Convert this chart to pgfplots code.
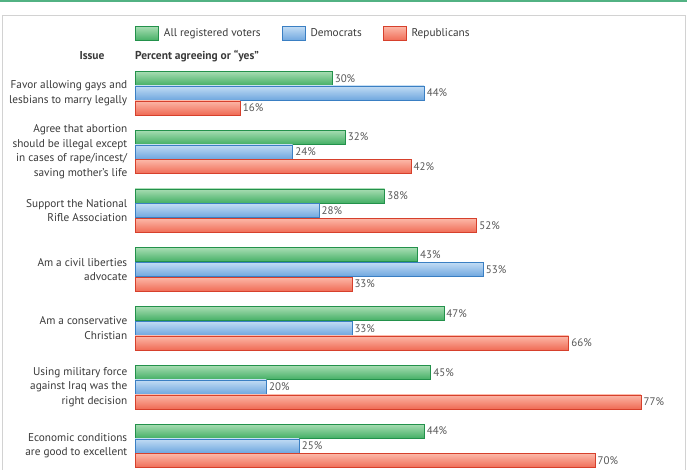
\documentclass[border=0pt]{standalone}
\usepackage{pgfplots}
\pgfplotsset{compat=1.18}
\usepackage{fontspec}
\setmainfont{PT Sans}
\definecolor{txt}{HTML}{3A3A3A}
\definecolor{gtop}{HTML}{A8DDB3}
\definecolor{gbot}{HTML}{45B066}
\definecolor{gdr}{HTML}{23914B}
\definecolor{btop}{HTML}{C2DCF4}
\definecolor{bbot}{HTML}{6FA7DF}
\definecolor{bdr}{HTML}{3A7FC3}
\definecolor{rtop}{HTML}{FCB8A8}
\definecolor{rbot}{HTML}{F06C56}
\definecolor{rdr}{HTML}{D6402C}
\definecolor{topline}{HTML}{52B283}
\pgfplotsset{
  gbar/.style={bar shift=14.75bp, draw=gdr, top color=gtop, bottom color=gbot},
  bbar/.style={bar shift=0bp, draw=bdr, top color=btop, bottom color=bbot},
  rbar/.style={bar shift=-14.75bp, draw=rdr, top color=rtop, bottom color=rbot},
}
\begin{document}
\begin{tikzpicture}
\useasboundingbox (0,0) rectangle (687bp,470bp);
\fill[white] (0,0) rectangle (687bp,470bp);
\fill[topline] (0,468bp) rectangle (687bp,470bp);
\draw[gray!35, line width=1bp] (2bp,-2bp) -- (2bp,454bp) -- (685bp,454bp) -- (685bp,-2bp);
\node[font=\fontsize{11.5}{13}\selectfont\bfseries, text=txt] at (92bp,414bp) {Issue};
\node[font=\fontsize{11.5}{13}\selectfont\bfseries, text=txt, anchor=west, inner sep=0pt] at (135bp,414bp) {Percent agreeing or “yes”};
\begin{axis}[
  at={(135bp,406.4bp)}, anchor=north west,
  scale only axis, width=525.6bp, height=411.6bp,
  xmin=0, xmax=80, ymin=0.5, ymax=7.5,
  xbar, bar width=14bp,
  axis line style={draw=none}, tick style={draw=none},
  xtick=\empty, ytick={1,2,3,4,5,6,7},
  yticklabels={{Economic conditions\\are good to excellent},
    {Using military force\\against Iraq was the\\right decision},
    {Am a conservative\\Christian},
    {Am a civil liberties\\advocate},
    {Support the National\\Rifle Association},
    {Agree that abortion\\should be illegal except\\in cases of rape/incest/\\saving mother’s life},
    {Favor allowing gays and\\lesbians to marry legally}},
  yticklabel style={align=right, font=\fontsize{11.3}{14.5}\selectfont, text=txt},
  /pgf/number format/assume math mode=true,
  nodes near coords={\pgfmathprintnumber{\pgfplotspointmeta}\%},
  nodes near coords style={font=\fontsize{11}{12}\selectfont, text=txt!85, anchor=west, inner sep=2.5bp},
  clip=false,
  legend columns=3,
  legend style={at={(0,1)}, anchor=west, yshift=30.1bp, draw=none, fill=none, inner sep=0pt,
    font=\fontsize{11.3}{13}\selectfont, text=txt,
    /tikz/every odd column/.append style={column sep=3bp},
    /tikz/every even column/.append style={column sep=19bp}},
  legend image code/.code={\draw[#1, line width=0.8bp] (0bp,-7bp) rectangle (23bp,7bp);},
]
\addplot[gbar] coordinates {(30,7)};
\addplot[bbar] coordinates {(44,7)};
\addplot[rbar] coordinates {(16,7)};
\legend{All registered voters, Democrats, Republicans}
% All registered voters
\addplot[gbar, forget plot] coordinates {(32,6)};
\addplot[gbar, forget plot] coordinates {(38,5)};
\addplot[gbar, forget plot] coordinates {(43,4)};
\addplot[gbar, forget plot] coordinates {(47,3)};
\addplot[gbar, forget plot] coordinates {(45,2)};
\addplot[gbar, forget plot] coordinates {(44,1)};
% Democrats
\addplot[bbar, forget plot] coordinates {(24,6)};
\addplot[bbar, forget plot] coordinates {(28,5)};
\addplot[bbar, forget plot] coordinates {(53,4)};
\addplot[bbar, forget plot] coordinates {(33,3)};
\addplot[bbar, forget plot] coordinates {(20,2)};
\addplot[bbar, forget plot] coordinates {(25,1)};
% Republicans
\addplot[rbar, forget plot] coordinates {(42,6)};
\addplot[rbar, forget plot] coordinates {(52,5)};
\addplot[rbar, forget plot] coordinates {(33,4)};
\addplot[rbar, forget plot] coordinates {(66,3)};
\addplot[rbar, forget plot] coordinates {(77,2)};
\addplot[rbar, forget plot] coordinates {(70,1)};
\end{axis}
\end{tikzpicture}
\end{document}
